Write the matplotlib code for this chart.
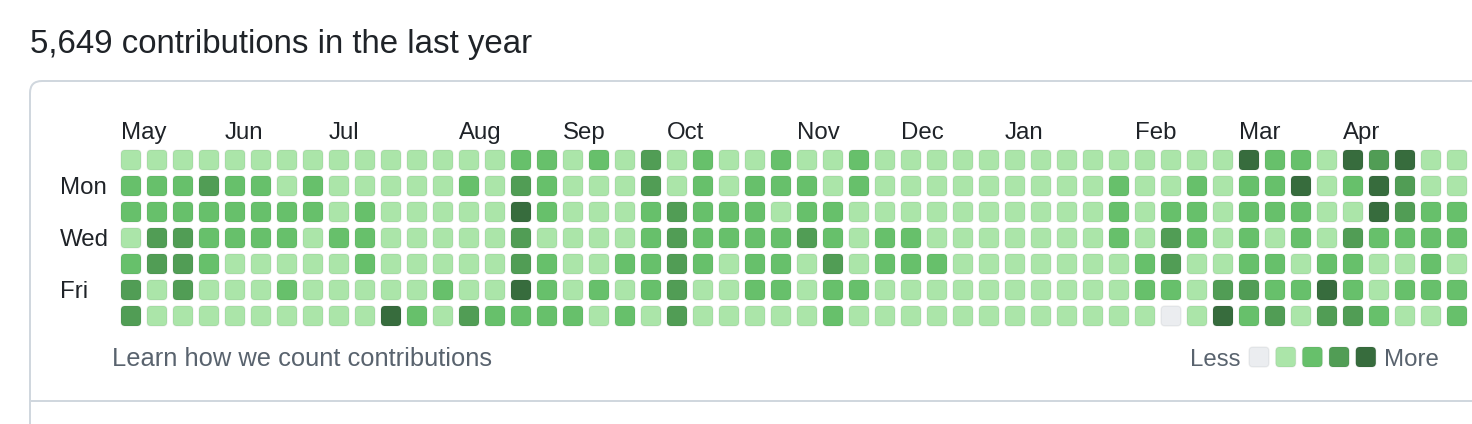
import matplotlib
matplotlib.use("Agg")
import matplotlib.pyplot as plt
from matplotlib.patches import FancyBboxPatch
from matplotlib.lines import Line2D

# contribution levels, one list per weekday (Sun..Sat), 52 weeks
sun = [1,1,1,1,1,1,1,1,1,1,1,1,1, 1,1,2,2,1,2,1,3,1,2,1,1,2, 1,1,2,1,1,1,1,1,1,1,1,1,1, 1,1,1,1,4,2,2,1,4,3,4,1,1]
mon = [2,2,2,3,2,2,1,2,1,1,1,1,1, 2,1,3,2,1,1,1,3,1,2,1,2,2, 2,1,2,1,1,1,1,1,1,1,1,1,2, 1,1,2,1,2,2,4,1,2,4,3,1,1]
tue = [2,2,2,2,2,2,2,2,1,2,1,1,1, 1,1,4,2,1,1,1,2,3,2,2,2,1, 2,2,1,1,1,1,1,1,1,1,1,1,2, 1,2,2,1,2,2,2,1,1,4,3,2,2]
wed = [1,3,3,2,2,2,2,1,2,2,1,1,1, 1,1,3,1,1,1,1,2,3,2,2,2,2, 3,2,1,2,2,1,1,1,1,1,1,1,2, 1,3,2,1,2,1,2,1,3,2,2,2,2]
thu = [2,3,3,2,1,1,1,1,1,2,1,1,1, 1,1,3,2,1,1,2,2,3,2,1,2,2, 1,3,1,2,2,2,1,1,1,1,1,1,1, 2,3,1,1,2,2,1,2,2,1,1,2,1]
fri = [3,1,3,1,1,1,2,1,1,1,1,1,2, 1,1,4,2,1,2,1,2,3,1,1,2,2, 1,2,2,1,1,1,1,1,1,1,1,1,1, 2,2,1,3,3,2,2,4,2,1,2,2,2]
sat = [3,1,1,1,1,1,1,1,1,1,4,2,1, 3,2,2,2,2,1,2,1,3,1,1,1,1, 1,2,1,1,1,1,1,1,1,1,1,1,1, 1,0,1,4,2,3,1,3,3,2,1,1,2]
weeks = [sun, mon, tue, wed, thu, fri, sat]

months = ["May", "Jun", "Jul", "Aug", "Sep", "Oct", "Nov", "Dec", "Jan", "Feb", "Mar", "Apr"]
month_cols = [0, 4, 8, 13, 17, 21, 26, 30, 34, 39, 43, 47]
day_labels = {1: "Mon", 3: "Wed", 5: "Fri"}

total = "5,649"
level_colors = ["#ebedf0", "#abe5a9", "#67c06b", "#519d55", "#376c3d"]

W, H = 1472, 424
fig = plt.figure(figsize=(W / 100, H / 100), dpi=100)
ax = fig.add_axes([0, 0, 1, 1])
ax.set_xlim(0, W)
ax.set_ylim(H, 0)
ax.axis("off")

FONT = ["Liberation Sans", "DejaVu Sans"]
PX = 0.72  # points per pixel at 100 dpi
dark = "#1f2328"
muted = "#59636e"
border = "#d0d7de"

# heading
ax.text(30, 53, f"{total} contributions in the last year", fontsize=33 * PX,
        family=FONT, color=dark, va="baseline", ha="left")

# outer box + divider
box = FancyBboxPatch((30, 81), 1500, 400, boxstyle="round,pad=0,rounding_size=12",
                     fc="white", ec=border, lw=2 * PX)
ax.add_patch(box)
ax.add_line(Line2D([30, W], [401, 401], color=border, lw=2 * PX))

# grid
x0, y0 = 121, 150
pitch, size = 26, 20

def cell(x, y, lvl):
    p = FancyBboxPatch((x, y), size, size, boxstyle="round,pad=0,rounding_size=4",
                       fc=level_colors[lvl], ec=(0.1, 0.12, 0.14, 0.06), lw=1.4 * PX)
    ax.add_patch(p)

for r, row in enumerate(weeks):
    for c, lvl in enumerate(row):
        cell(x0 + c * pitch, y0 + r * pitch, lvl)

for name, c in zip(months, month_cols):
    ax.text(x0 + c * pitch, 139, name, fontsize=24 * PX, family=FONT, color=dark,
            va="baseline", ha="left")

for r, name in day_labels.items():
    ax.text(60, y0 + r * pitch + size / 2 + 8.5, name, fontsize=24 * PX, family=FONT,
            color=dark, va="baseline", ha="left")

# footer
ax.text(112, 366, "Learn how we count contributions", fontsize=25.5 * PX, family=FONT,
        color=muted, va="baseline", ha="left")
lx, lp = 1249, 26.7
ax.text(lx - 8, 366, "Less", fontsize=24 * PX, family=FONT, color=muted,
        va="baseline", ha="right")
for i in range(len(level_colors)):
    cell(lx + i * lp, 347, i)
ax.text(lx + 4 * lp + size + 8, 366, "More", fontsize=24 * PX, family=FONT, color=muted,
        va="baseline", ha="left")

fig.savefig("out.png", dpi=100)
